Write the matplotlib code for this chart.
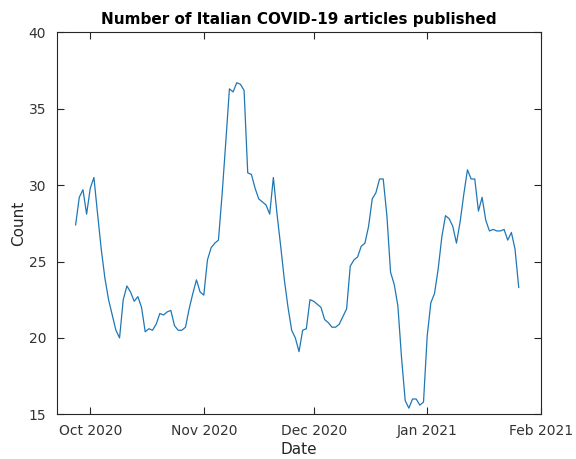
import numpy as np
import pandas as pd
import matplotlib
matplotlib.use("Agg")
import matplotlib.pyplot as plt
import matplotlib.dates as mdates

# daily counts, 27 Sep 2020 -> 26 Jan 2021
start_date = "2020-09-27"
counts = [
    27.4, 29.2, 29.7, 28.1, 29.8, 30.5, 28.1, 25.8, 23.9, 22.5,
    21.5, 20.5, 20.0, 22.5, 23.4, 23.0, 22.4, 22.7, 22.0, 20.4,
    20.6, 20.5, 20.9, 21.6, 21.5, 21.7, 21.8, 20.8, 20.5, 20.5,
    20.7, 21.9, 22.9, 23.8, 23.0, 22.8, 25.1, 25.9, 26.2, 26.4,
    29.4, 32.8, 36.3, 36.1, 36.7, 36.6, 36.2, 30.8, 30.7, 29.8,
    29.1, 28.9, 28.7, 28.1, 30.5, 28.1, 26.0, 23.8, 22.0, 20.5,
    20.0, 19.1, 20.5, 20.6, 22.5, 22.4, 22.2, 22.0, 21.2, 21.0,
    20.7, 20.7, 20.9, 21.4, 21.9, 24.7, 25.1, 25.3, 26.0, 26.2,
    27.3, 29.1, 29.5, 30.4, 30.4, 28.0, 24.3, 23.5, 22.1, 18.7,
    15.9, 15.4, 16.0, 16.0, 15.6, 15.8, 20.1, 22.3, 22.9, 24.5,
    26.6, 28.0, 27.8, 27.3, 26.2, 27.6, 29.4, 31.0, 30.4, 30.4,
    28.3, 29.2, 27.7, 27.0, 27.1, 27.0, 27.0, 27.1, 26.4, 26.9,
    25.8, 23.3,
]
dates = pd.date_range(start_date, periods=len(counts), freq="D")

x_min, x_max = "2020-09-22", "2021-02-01"
y_ticks = [15, 20, 25, 30, 35, 40]

fig = plt.figure(figsize=(5.76, 4.59), dpi=100)
ax = fig.add_axes([0.0995, 0.0974, 0.8392, 0.8322])

ax.plot(dates, counts, color="#1f77b4", linewidth=0.9)

ax.set_xlim(pd.Timestamp(x_min), pd.Timestamp(x_max))
ax.set_ylim(15, 40)
ax.set_yticks(y_ticks)
ax.xaxis.set_major_locator(mdates.MonthLocator())
ax.xaxis.set_major_formatter(mdates.DateFormatter("%b %Y"))

# matlab-ish look: box, inward ticks on all four sides
for side in ax.spines.values():
    side.set_color("#262626")
    side.set_linewidth(0.8)
ax.tick_params(direction="in", length=5, width=0.8, top=True, right=True,
               colors="#262626", labelsize=10, labelcolor="#333333")
ax.tick_params(axis="x", pad=7)
ax.tick_params(axis="y", pad=8)

ax.set_title("Number of Italian COVID-19 articles published",
             fontsize=11, fontweight="bold", pad=6)
ax.set_xlabel("Date", fontsize=11, color="#262626", labelpad=3)
ax.set_ylabel("Count", fontsize=11, color="#262626", labelpad=2)

fig.savefig("out.png", dpi=100, facecolor="white")
